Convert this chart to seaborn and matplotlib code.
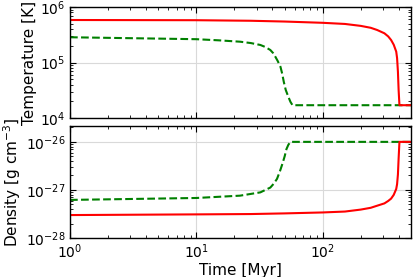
import numpy as np
import pandas as pd
import matplotlib
matplotlib.use("Agg")
import matplotlib.pyplot as plt
import seaborn as sns

# values
time_hot = [1, 10, 27, 50, 100, 150, 200, 240, 270, 308, 330, 348, 365, 382, 388, 394, 399, 405, 500]
temp_hot = [5.83e5, 5.78e5, 5.65e5, 5.47e5, 5.19e5, 4.95e5, 4.57e5, 4.22e5, 3.85e5, 3.36e5,
            2.95e5, 2.54e5, 2.09e5, 1.57e5, 1.2e5, 6.8e4, 3.2e4, 1.7e4, 1.7e4]
dens_hot = [3.0e-28, 3.1e-28, 3.15e-28, 3.25e-28, 3.4e-28, 3.55e-28, 3.9e-28, 4.25e-28, 4.7e-28, 5.25e-28,
            5.9e-28, 6.6e-28, 7.9e-28, 1.05e-27, 1.32e-27, 2.1e-27, 4.5e-27, 1.0e-26, 1.0e-26]

time_warm_t = [1, 10, 15, 22.2, 27, 32.1, 35, 38.5, 40.5, 42.2, 44, 46.3, 47.8, 49.2, 51, 53.5, 55.6, 57.7, 500]
temp_warm = [2.85e5, 2.63e5, 2.51e5, 2.37e5, 2.24e5, 2.07e5, 1.91e5, 1.68e5, 1.48e5, 1.27e5,
             1.07e5, 8.4e4, 6.3e4, 4.5e4, 3.2e4, 2.4e4, 1.95e4, 1.7e4, 1.7e4]
time_warm_d = [1, 10, 22.2, 32.1, 38.5, 41, 43.5, 46, 48, 50, 51.7, 53.5, 55.6, 500]
dens_warm = [6.2e-28, 6.8e-28, 7.6e-28, 8.9e-28, 1.12e-27, 1.35e-27, 1.7e-27, 2.5e-27, 3.5e-27,
             5.0e-27, 7.1e-27, 8.7e-27, 1.0e-26, 1.0e-26]

sns.set_style("ticks")
plt.rcParams['font.family'] = ['DejaVu Sans']
plt.rcParams['text.color'] = 'black'
plt.rcParams['axes.labelcolor'] = 'black'
plt.rcParams['xtick.color'] = 'black'
plt.rcParams['ytick.color'] = 'black'

W, H = 415, 277
fig = plt.figure(figsize=(W / 100, H / 100), dpi=100)
ax1 = fig.add_axes([70 / W, 1 - 118 / H, 341 / W, 111 / H])
ax2 = fig.add_axes([70 / W, 1 - 238 / H, 341 / W, 112 / H], sharex=ax1)

def draw(ax, xg, yg, xr, yr):
    sns.lineplot(x=xg, y=yg, ax=ax, color='green', linestyle='--', lw=1.5,
                 estimator=None, sort=False)
    sns.lineplot(x=xr, y=yr, ax=ax, color='red', lw=1.5,
                 estimator=None, sort=False)
    ax.set_xscale('log')
    ax.set_yscale('log')
    ax.grid(True, which='major', color='0.85', lw=0.8)
    ax.tick_params(which='both', direction='in', top=True, right=True, labelsize=10)
    ax.tick_params(which='major', length=4)
    ax.tick_params(which='minor', length=2)
    for s in ax.spines.values():
        s.set_linewidth(1.0)
        s.set_color('black')

draw(ax1, time_warm_t, temp_warm, time_hot, temp_hot)
draw(ax2, time_warm_d, dens_warm, time_hot, dens_hot)

ax1.set_xlim(1, 500)
ax1.set_ylim(1e4, 1e6)
ax2.set_ylim(1e-28, 10 ** -25.67)
ax2.set_yticks([1e-28, 1e-27, 1e-26])

plt.setp(ax1.get_xticklabels(), visible=False)
ax1.set_ylabel('Temperature [K]', fontsize=11, labelpad=2)
ax2.set_ylabel('Density [g cm$^{-3}$]', fontsize=11, labelpad=2)
ax2.set_xlabel('Time [Myr]', fontsize=11, labelpad=1)
ax1.set_xlabel('')

fig.savefig('out.png', dpi=100)
